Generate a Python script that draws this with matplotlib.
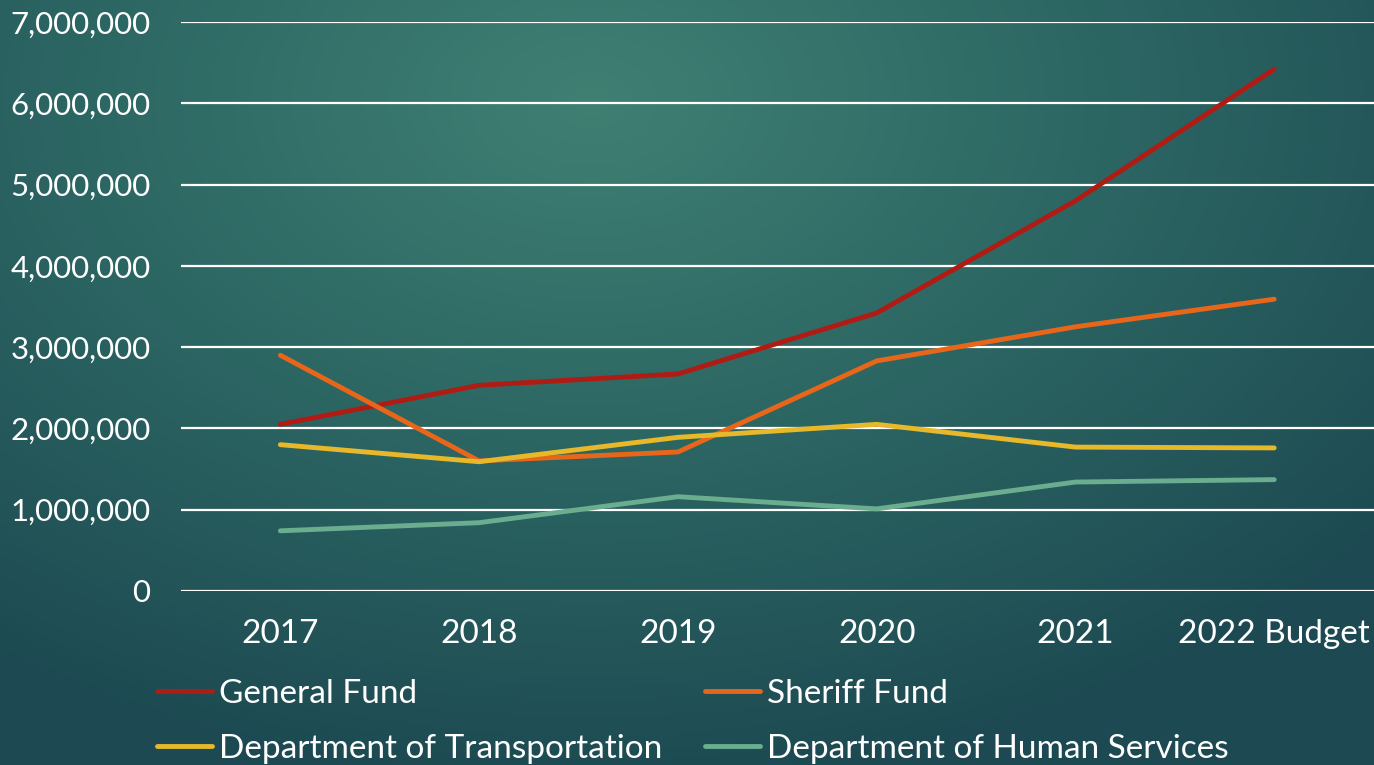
import numpy as np
import matplotlib
matplotlib.use("Agg")
import matplotlib.pyplot as plt
from matplotlib.ticker import FuncFormatter
from matplotlib.colors import LinearSegmentedColormap

# data
years = ["2017", "2018", "2019", "2020", "2021", "2022 Budget"]
general_fund = [2050000, 2530000, 2670000, 3420000, 4800000, 6420000]
sheriff_fund = [2900000, 1600000, 1710000, 2830000, 3250000, 3590000]
transportation = [1800000, 1590000, 1890000, 2050000, 1770000, 1760000]
human_services = [740000, 840000, 1160000, 1010000, 1340000, 1370000]

series_names = ["General Fund", "Sheriff Fund", "Department of Transportation",
                "Department of Human Services"]
series_colors = ["#b01c14", "#e8661a", "#e6b82a", "#6aad8f"]

plt.rcParams["font.family"] = ["Lato", "DejaVu Sans"]

fig = plt.figure(figsize=(13.74, 7.65), dpi=100)

# background radial gradient
bg = fig.add_axes([0, 0, 1, 1], zorder=-10)
xx, yy = np.meshgrid(np.linspace(0, 1, 400), np.linspace(0, 1, 250))
r = np.sqrt(((xx - 0.43) / 0.75) ** 2 + ((yy - 0.13) / 0.9) ** 2)
r = np.clip(r, 0, 1)
cmap = LinearSegmentedColormap.from_list("bg", ["#3f8073", "#2c6663", "#1d4a52"])
bg.imshow(r, cmap=cmap, aspect="auto", extent=[0, 1, 0, 1], origin="upper")
bg.axis("off")

ax = fig.add_axes([0.1317, 0.2275, 0.868, 0.7437])
ax.set_facecolor("none")

x = np.arange(len(years))
all_series = [general_fund, sheriff_fund, transportation, human_services]
lines = []
for vals, name, col in zip(all_series, series_names, series_colors):
    ln, = ax.plot(x, vals, color=col, lw=3.5, solid_capstyle="round",
                  solid_joinstyle="round", label=name, zorder=3)
    lines.append(ln)

ax.set_xlim(-0.5, len(years) - 0.5)
ax.set_ylim(0, 7000000)
ax.set_yticks(np.arange(0, 7000001, 1000000))
ax.yaxis.set_major_formatter(FuncFormatter(lambda v, p: f"{int(v):,}"))
ax.set_xticks(x)
ax.set_xticklabels(years)

ax.grid(axis="y", color="white", lw=1.6, zorder=1)
ax.set_axisbelow(True)
for s in ax.spines.values():
    s.set_visible(False)
ax.tick_params(axis="both", length=0, colors="white")
ax.tick_params(axis="y", pad=22, labelsize=22.5)
ax.tick_params(axis="x", pad=20, labelsize=24)

order = [0, 2, 1, 3]
leg = fig.legend([lines[i] for i in order], [series_names[i] for i in order],
                 ncol=2, loc="upper left", bbox_to_anchor=(157 / 1374, 1 - 679 / 765),
                 frameon=False, fontsize=24, handlelength=1.65, handletextpad=0.2,
                 columnspacing=1.3, labelspacing=0.75, borderpad=0, borderaxespad=0,
                 labelcolor="white")

fig.savefig("out.png", dpi=100)
